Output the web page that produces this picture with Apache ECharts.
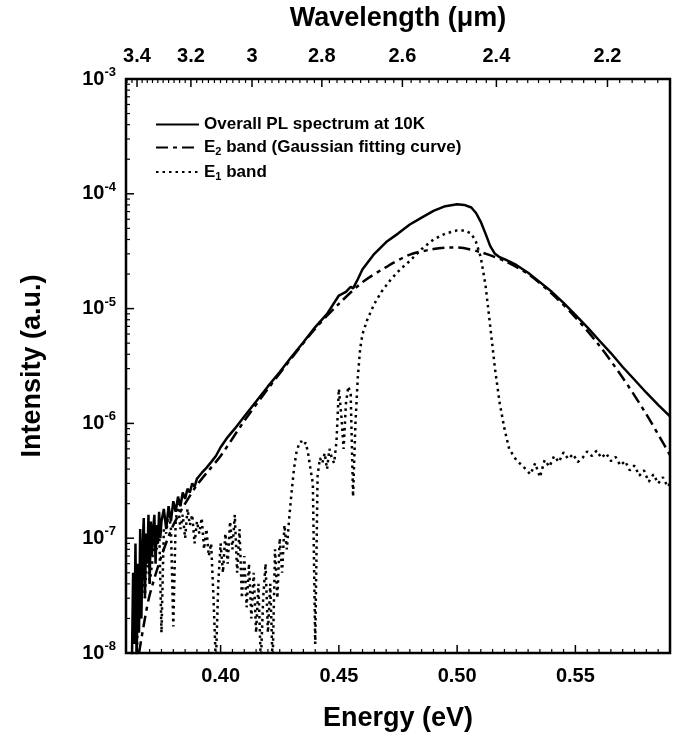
<!DOCTYPE html>
<html><head><meta charset="utf-8">
<script src="https://cdn.jsdelivr.net/npm/echarts@6/dist/echarts.min.js"></script>
<style>html,body{margin:0;padding:0;background:#fff}#c{width:673px;height:737px}</style>
</head><body><div id="c"></div><script>
const FONT = '"Liberation Sans", Arial, Helvetica, sans-serif';
const HC = 1.23984; // eV*um

// tick labels
const energyTicks = [0.40, 0.45, 0.50, 0.55];
const wavelengthTicks = [3.4, 3.2, 3.0, 2.8, 2.6, 2.4, 2.2];
const decadeTicks = [1e-8, 1e-7, 1e-6, 1e-5, 1e-4, 1e-3];

// Overall PL spectrum at 10K
const plEnergy = [0.3625,0.363,0.3635,0.364,0.3645,0.365,0.3655,0.366,0.3665,0.367,0.3675,0.368,0.3685,0.369,0.3695,0.370,0.3705,0.371,0.3715,0.372,0.3725,0.373,0.3735,0.374,0.3745,0.375,0.376,0.377,0.378,0.379,0.380,0.381,0.382,0.383,0.384,0.385,0.386,0.387,0.388,0.389,0.390,0.392,0.394,0.396,0.398,0.400,0.403,0.406,0.410,0.415,0.420,0.425,0.430,0.435,0.440,0.445,0.450,0.453,0.455,0.456,0.458,0.460,0.465,0.470,0.475,0.480,0.485,0.490,0.495,0.500,0.503,0.506,0.508,0.510,0.512,0.514,0.516,0.518,0.520,0.525,0.530,0.535,0.540,0.545,0.550,0.555,0.560,0.565,0.570,0.575,0.580,0.585,0.590];
const plIntensity = [8e-9,5e-8,1.2e-8,9e-8,8e-9,6e-8,1.5e-8,1.2e-7,2e-8,8e-8,1.5e-7,3e-8,1.1e-7,6e-8,1.6e-7,4e-8,1.4e-7,7e-8,1.2e-7,1.6e-7,6e-8,1.3e-7,9e-8,1.7e-7,1e-7,1.4e-7,1.8e-7,1.2e-7,1.9e-7,1.4e-7,2.1e-7,1.7e-7,2.3e-7,1.9e-7,2.5e-7,2.2e-7,2.7e-7,2.5e-7,3e-7,2.8e-7,3.3e-7,3.7e-7,4.1e-7,4.6e-7,5.2e-7,6.2e-7,7.6e-7,9e-7,1.15e-6,1.55e-6,2.1e-6,2.8e-6,3.8e-6,5.1e-6,6.9e-6,9e-6,1.3e-5,1.4e-5,1.55e-5,1.5e-5,1.8e-5,2.2e-5,3.0e-5,3.8e-5,4.5e-5,5.4e-5,6.2e-5,7.1e-5,7.8e-5,8.1e-5,8.0e-5,7.6e-5,6.8e-5,5.7e-5,4.5e-5,3.5e-5,3.0e-5,2.8e-5,2.7e-5,2.4e-5,2.05e-5,1.7e-5,1.4e-5,1.12e-5,8.8e-6,6.9e-6,5.3e-6,4.1e-6,3.1e-6,2.4e-6,1.85e-6,1.45e-6,1.15e-6];

// E2 band (Gaussian fitting curve)
const e2Energy = [0.3655,0.368,0.370,0.375,0.380,0.385,0.390,0.395,0.400,0.410,0.420,0.430,0.440,0.450,0.460,0.470,0.480,0.490,0.497,0.500,0.510,0.520,0.530,0.540,0.550,0.560,0.570,0.580,0.590];
const e2Intensity = [1.0e-8,2.0e-8,3.2e-8,7e-8,1.3e-7,2.0e-7,2.9e-7,3.9e-7,5.2e-7,1.05e-6,2.0e-6,3.7e-6,6.7e-6,1.1e-5,1.7e-5,2.3e-5,2.95e-5,3.3e-5,3.4e-5,3.4e-5,3.1e-5,2.6e-5,2.0e-5,1.35e-5,8.4e-6,4.8e-6,2.5e-6,1.2e-6,5.3e-7];

// E1 band
const e1Energy = [0.3645,0.3655,0.366,0.367,0.368,0.369,0.370,0.371,0.372,0.373,0.374,0.375,0.376,0.377,0.378,0.379,0.380,0.381,0.382,0.383,0.384,0.385,0.386,0.387,0.388,0.389,0.390,0.391,0.392,0.393,0.394,0.395,0.396,0.397,0.398,0.399,0.400,0.401,0.402,0.403,0.404,0.405,0.406,0.407,0.408,0.409,0.410,0.411,0.412,0.413,0.414,0.415,0.416,0.417,0.418,0.419,0.420,0.421,0.422,0.423,0.424,0.425,0.426,0.427,0.428,0.429,0.430,0.431,0.432,0.433,0.434,0.435,0.436,0.437,0.438,0.439,0.440,0.441,0.442,0.443,0.444,0.445,0.446,0.447,0.448,0.449,0.450,0.451,0.452,0.453,0.454,0.455,0.456,0.457,0.458,0.459,0.460,0.462,0.465,0.468,0.472,0.476,0.480,0.485,0.490,0.495,0.500,0.503,0.506,0.508,0.510,0.512,0.514,0.516,0.518,0.520,0.522,0.525,0.528,0.531,0.533,0.535,0.537,0.539,0.541,0.543,0.545,0.547,0.549,0.551,0.553,0.555,0.557,0.559,0.561,0.563,0.565,0.567,0.569,0.571,0.573,0.575,0.577,0.579,0.581,0.583,0.585,0.587,0.589,0.590];
const e1Intensity = [8e-9,5e-8,2e-8,7e-8,3e-8,9e-8,4e-8,6e-8,1.1e-7,8e-8,1.3e-7,1.5e-8,1.2e-7,1.1e-7,1.7e-7,1.2e-7,1.7e-8,1.4e-7,2.0e-7,1.2e-7,1.6e-7,1.0e-7,1.8e-7,1.3e-7,1.6e-7,9e-8,1.4e-7,1.1e-7,1.5e-7,8e-8,1.2e-7,7e-8,9e-8,3e-8,8e-9,4e-8,9e-8,5e-8,1.1e-7,6e-8,1.4e-7,8e-8,1.6e-7,5e-8,1.2e-7,3e-8,7e-8,2.5e-8,6e-8,2e-8,5e-8,1.5e-8,4e-8,8e-9,3e-8,6e-8,1.5e-8,4e-8,8e-9,8e-8,3e-8,1e-7,5e-8,1.3e-7,8e-8,1.5e-7,2.5e-7,4e-7,5.5e-7,6.5e-7,7e-7,6.5e-7,6.8e-7,5.5e-7,4e-7,3e-7,1.2e-8,3.5e-7,5e-7,4.5e-7,5.5e-7,4e-7,6e-7,5e-7,4.5e-7,7e-7,2e-6,1.2e-6,6e-7,1.5e-6,2.1e-6,1.8e-6,2.3e-7,1e-6,2.5e-6,4.5e-6,6e-6,8e-6,1.1e-5,1.4e-5,1.8e-5,2.2e-5,2.6e-5,3.3e-5,4.0e-5,4.5e-5,4.8e-5,4.8e-5,4.5e-5,3.8e-5,2.8e-5,1.6e-5,7e-6,3e-6,1.5e-6,9e-7,6e-7,4.8e-7,4.2e-7,3.6e-7,4.5e-7,3.4e-7,4.8e-7,4.2e-7,5.2e-7,4.6e-7,5.6e-7,4.9e-7,5.4e-7,4.6e-7,5e-7,5.7e-7,5.2e-7,5.8e-7,5e-7,5.5e-7,4.7e-7,5.1e-7,4.3e-7,4.7e-7,3.9e-7,4.3e-7,3.5e-7,3.9e-7,3.1e-7,3.6e-7,3e-7,3.4e-7,2.8e-7,3e-7];

const zip = (a, b) => a.map((v, i) => [v, b[i]]);

const E_MIN = 0.36, E_MAX = 0.59, I_MIN = 1e-8, I_MAX = 1e-3;

// tick positions (minor ticks)
const eMinor = []; for (let i = 1; i < 46; i++) { const e = +(0.36 + i * 0.005).toFixed(3); if (energyTicks.indexOf(e) < 0) eMinor.push(e); }
const wlMinor = []; for (let i = 0; i <= 67; i++) { const l = +(3.44 - i * 0.02).toFixed(2); if (wavelengthTicks.indexOf(l) < 0 && HC / l <= E_MAX && HC / l >= E_MIN) wlMinor.push(l); }
const logMinor = []; for (let d = -8; d < -3; d++) for (let k = 2; k <= 9; k++) logMinor.push(k * Math.pow(10, d));

const labelStyle = { fontFamily: FONT, fontWeight: 'bold', fontSize: 20, color: '#000' };
const nameStyle = { fontFamily: FONT, fontWeight: 'bold', fontSize: 27, color: '#000' };

// tick marks drawn through the axes' own coordinate system
function tickSeries(values, side, len, w) {
  return {
    type: 'custom', silent: true, xAxisIndex: 0, yAxisIndex: 0, z: 10, clip: false,
    data: values.map(v => [v]),
    dimensions: ['v'],
    encode: { x: -1, y: -1 },
    renderItem: (params, api) => {
      const v = values[params.dataIndex];
      let p, s;
      if (side === 'bottom') { p = api.coord([v, I_MIN]); s = { x1: p[0], y1: p[1], x2: p[0], y2: p[1] - len }; }
      else if (side === 'top') { p = api.coord([v, I_MAX]); s = { x1: p[0], y1: p[1], x2: p[0], y2: p[1] + len }; }
      else { p = api.coord([E_MIN, v]); s = { x1: p[0], y1: p[1], x2: p[0] + len, y2: p[1] }; }
      return { type: 'line', shape: s, style: { stroke: '#000', lineWidth: w } };
    }
  };
}

const chart = echarts.init(document.getElementById('c'), null, { renderer: 'canvas' });
chart.setOption({
  animation: false,
  backgroundColor: '#fff',
  grid: { left: 126, right: 3, top: 79, bottom: 84, show: true, borderColor: '#000', borderWidth: 2.5, backgroundColor: 'transparent' },
  legend: {
    left: 150, top: 111, orient: 'vertical', itemWidth: 43, itemHeight: 14, itemGap: 6,
    itemStyle: { opacity: 0 },
    data: ['Overall PL spectrum at 10K', 'E2 band (Gaussian fitting curve)', 'E1 band'],
    formatter: n => n === 'E1 band' ? '{n|E}{s|1}{n| band}' : n.startsWith('E2') ? '{n|E}{s|2}{n| band (Gaussian fitting curve)}' : '{n|' + n + '}',
    textStyle: { fontFamily: FONT, fontWeight: 'bold', fontSize: 17, color: '#000',
      rich: { n: { fontFamily: FONT, fontWeight: 'bold', fontSize: 17, lineHeight: 20, color: '#000' },
              s: { fontFamily: FONT, fontWeight: 'bold', fontSize: 11, lineHeight: 11, verticalAlign: 'bottom', color: '#000' } } }
  },
  xAxis: [
    { type: 'value', position: 'bottom', min: E_MIN, max: E_MAX,
      name: 'Energy (eV)', nameLocation: 'middle', nameGap: 52, nameTextStyle: nameStyle,
      axisLine: { show: false }, splitLine: { show: false }, axisTick: { show: false },
      axisLabel: Object.assign({ margin: 13, customValues: energyTicks, formatter: v => v.toFixed(2) }, labelStyle) },
    { type: 'value', position: 'top', min: E_MIN, max: E_MAX,
      name: 'Wavelength (\u03BCm)', nameLocation: 'middle', nameGap: 47, nameTextStyle: nameStyle,
      axisLine: { show: false }, splitLine: { show: false }, axisTick: { show: false },
      axisLabel: Object.assign({ margin: 13, customValues: wavelengthTicks.map(l => HC / l), formatter: v => String(Math.round(HC / v * 10) / 10) }, labelStyle) }
  ],
  yAxis: [
    { type: 'log', logBase: 10, min: I_MIN, max: I_MAX, position: 'left',
      name: 'Intensity (a.u.)', nameLocation: 'middle', nameGap: 80, nameTextStyle: nameStyle,
      axisLine: { show: false }, splitLine: { show: false }, axisTick: { show: false },
      axisLabel: { margin: 10, formatter: v => '{b|10}{s|' + Math.round(Math.log10(v)) + '}',
        rich: { b: { fontFamily: FONT, fontWeight: 'bold', fontSize: 20, lineHeight: 26, color: '#000' },
                s: { fontFamily: FONT, fontWeight: 'bold', fontSize: 13, lineHeight: 13, verticalAlign: 'top', color: '#000' } } } }
  ],
  series: [
    { name: 'Overall PL spectrum at 10K', type: 'line', showSymbol: false, symbol: 'none',
      lineStyle: { color: '#000', width: 2.5 }, itemStyle: { color: '#000' }, data: zip(plEnergy, plIntensity), z: 3 },
    { name: 'E2 band (Gaussian fitting curve)', type: 'line', showSymbol: false, symbol: 'none', smooth: 0.3,
      lineStyle: { color: '#000', width: 2.5, type: [12, 5, 4, 5] }, itemStyle: { color: '#000' }, data: zip(e2Energy, e2Intensity), z: 2 },
    { name: 'E1 band', type: 'line', showSymbol: false, symbol: 'none',
      lineStyle: { color: '#000', width: 2.5, type: [2.5, 4] }, itemStyle: { color: '#000' }, data: zip(e1Energy, e1Intensity), z: 1 },
    tickSeries(energyTicks, 'bottom', 8, 1.5),
    tickSeries(eMinor, 'bottom', 4, 1.2),
    tickSeries(wavelengthTicks.map(l => HC / l), 'top', 8, 1.5),
    tickSeries(wlMinor.map(l => HC / l), 'top', 4, 1.2),
    tickSeries(decadeTicks, 'left', 8, 1.5),
    tickSeries(logMinor, 'left', 4, 1.2)
  ]
});
</script></body></html>
